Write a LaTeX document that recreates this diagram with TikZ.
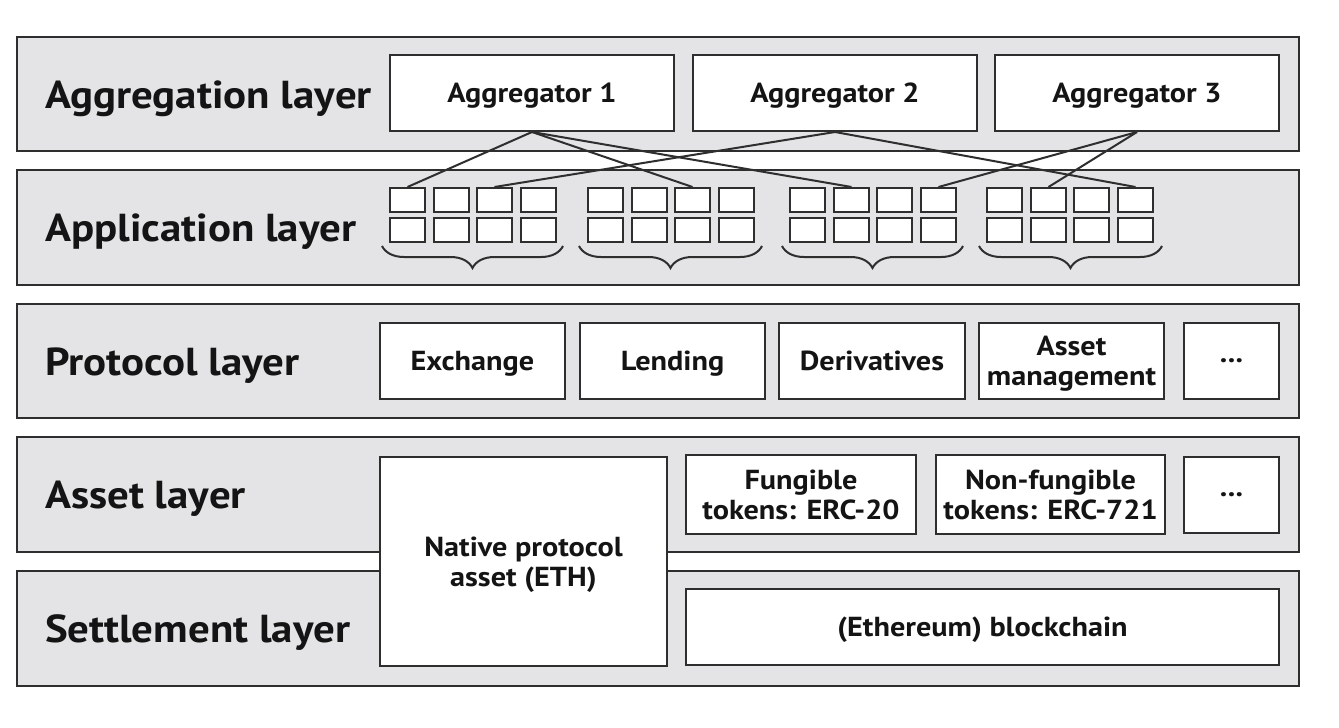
\documentclass[tikz,border=0pt]{standalone}
\usepackage{fontspec}
\setmainfont{PT Sans}[FakeStretch=1.1]
\usetikzlibrary{decorations.pathreplacing}
\definecolor{linec}{HTML}{2E2E2E}
\definecolor{layerfill}{HTML}{E4E4E6}
\definecolor{txt}{HTML}{141414}
\tikzset{
  layerbox/.style={draw=linec, fill=layerfill, line width=2pt, inner sep=0pt},
  itembox/.style={draw=linec, fill=white, line width=2pt, inner sep=0pt, align=center,
     text depth=0pt, text=txt, font=\fontsize{27.5}{30}\selectfont\bfseries},
  smallbox/.style={draw=linec, fill=white, line width=2pt, inner sep=0pt,
     minimum width=35pt, minimum height=24pt},
  layerlabel/.style={anchor=base west, inner sep=0pt, text=txt, font=\fontsize{39}{44}\selectfont\bfseries},
  link/.style={draw=linec, line width=2pt},
  grpbrace/.style={draw=linec, line width=2pt, decorate, decoration={brace, amplitude=22pt}}
}
\newcommand\bx[6]{\node[itembox, minimum width={(#4)-(#2)}, minimum height={(#5)-(#3)}] (#1) at ({((#2)+(#4))/2},{((#3)+(#5))/2}) {#6};}
\newcommand\lay[3]{\node[layerbox, minimum width=1282pt, minimum height={(#3)-(#2)}] (#1) at (658,{((#2)+(#3))/2}) {};}
\begin{document}
\begin{tikzpicture}[x=1pt,y=-1pt]
\useasboundingbox (0,0) rectangle (1339,728);
\fill[white] (0,0) rectangle (1339,728);
% layers
\lay{Lagg}{37}{151}
\lay{Lapp}{170}{285}
\lay{Lpro}{304}{418}
\lay{Lass}{437}{552}
\lay{Lset}{571}{686}
\node[layerlabel] (tagg) at (45,108) {Aggregation layer};
\node[layerlabel] (tapp) at (45,241) {Application layer};
\node[layerlabel] (tpro) at (45,375) {Protocol layer};
\node[layerlabel] (tass) at (45,508) {Asset layer};
\node[layerlabel] (tset) at (45,642) {Settlement layer};
% aggregation
\bx{A1}{390}{55}{674}{131}{Aggregator 1}
\bx{A2}{693}{55}{977}{131}{Aggregator 2}
\bx{A3}{995}{55}{1279}{131}{Aggregator 3}
% application small boxes
\foreach \g/\gx in {1/390,2/588,3/790,4/987}{
  \foreach \c/\cx in {1/0,2/44,3/87,4/131}{
    \node[smallbox] (g\g r1c\c) at ({\gx+\cx+17.5},200) {};
    \node[smallbox] (g\g r2c\c) at ({\gx+\cx+17.5},230) {};
  }
}
\foreach \a/\b in {382/563,579/762,782/963,979/1162}{
  \draw[grpbrace] (\b,246) -- (\a,246);
}
% links
\draw[link] (A1.south) -- (g1r1c1.north);
\draw[link] (A1.south) -- (g2r1c3.north);
\draw[link] (A1.south) -- (g3r1c2.north);
\draw[link] (A2.south) -- (g1r1c3.north);
\draw[link] (A2.south) -- (g4r1c4.north);
\draw[link] (A3.south) -- (g3r1c4.north);
\draw[link] (A3.south) -- (g4r1c2.north);
% protocol
\bx{P1}{380}{323}{565}{399}{Exchange}
\bx{P2}{580}{323}{765}{399}{Lending}
\bx{P3}{779}{323}{965}{399}{Derivatives}
\bx{P4}{979}{323}{1164}{399}{Asset\\management}
\bx{P5}{1184}{323}{1279}{399}{...}
% asset
\bx{S1}{686}{455}{916}{534}{Fungible\\tokens: ERC-20}
\bx{S2}{936}{455}{1165}{534}{Non-fungible\\tokens: ERC-721}
\bx{S3}{1184}{457}{1279}{533}{...}
\bx{N}{380}{457}{667}{666}{Native protocol\\asset (ETH)}
% settlement
\bx{B}{686}{589}{1279}{665}{(Ethereum) blockchain}
\end{tikzpicture}
\end{document}
